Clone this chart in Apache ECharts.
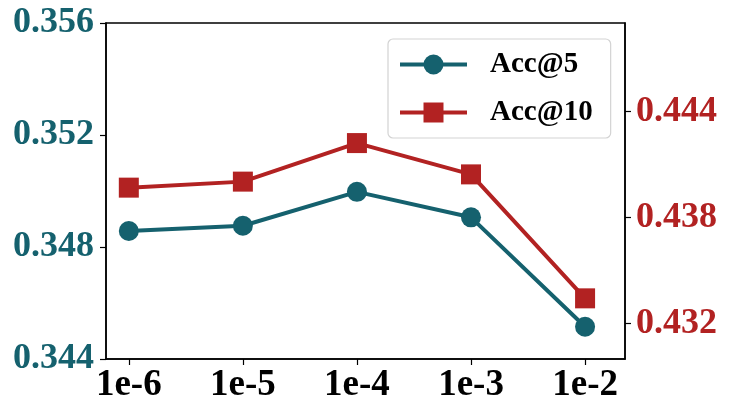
<!DOCTYPE html>
<html>
<head>
<meta charset="utf-8">
<script src="https://cdn.jsdelivr.net/npm/echarts@6/dist/echarts.min.js"></script>
<style>html,body{margin:0;padding:0;background:#fff}#c{width:731px;height:418px}</style>
</head>
<body>
<div id="c"></div>
<script>
var categories = ['1e-6', '1e-5', '1e-4', '1e-3', '1e-2'];
var acc5 = [0.34857, 0.34876, 0.34997, 0.34906, 0.34515];
var acc10 = [0.43969, 0.44003, 0.44221, 0.44044, 0.43343];
var leftTicks = [0.344, 0.348, 0.352, 0.356];
var rightTicks = [0.432, 0.438, 0.444];

var TEAL = '#15616e';
var RED = '#b22222';
var FONT = '"Liberation Serif", "Times New Roman", serif';

function pairs(vals) { return vals.map(function (v, i) { return [i, v]; }); }
var idx = categories.map(function (c, i) { return i; });

var chart = echarts.init(document.getElementById('c'));
chart.setOption({
  animation: false,
  grid: { left: 106, right: 106, top: 23, bottom: 59, show: true, borderColor: '#000', borderWidth: 1.5, backgroundColor: 'transparent' },
  legend: {
    orient: 'vertical', left: 388, top: 39,
    padding: [11, 18, 11, 10],
    itemWidth: 67, itemHeight: 25, itemGap: 19,
    backgroundColor: '#fff', borderColor: '#d3d3d3', borderWidth: 1.2, borderRadius: 5,
    lineStyle: { width: 4 },
    textStyle: { fontFamily: FONT, fontWeight: 'bold', fontSize: 29, color: '#000', padding: [0, 0, 0, 18] },
    data: ['Acc@5', 'Acc@10']
  },
  xAxis: {
    type: 'value', min: -0.2, max: 4.35,
    splitLine: { show: false },
    axisLine: { show: true, onZero: false, lineStyle: { color: '#000', width: 1.5 } },
    axisTick: { show: true, length: 6, lineStyle: { color: '#000', width: 1.2 }, customValues: idx },
    axisLabel: {
      customValues: idx, margin: 8,
      formatter: function (v) { return categories[Math.round(v)]; },
      fontFamily: FONT, fontWeight: 'bold', fontSize: 37, color: '#000'
    }
  },
  yAxis: [{
    type: 'value', min: 0.344, max: 0.356, interval: 0.004, position: 'left',
    splitLine: { show: false },
    axisLine: { show: true, onZero: false, lineStyle: { color: '#000', width: 1.5 } },
    axisTick: { show: true, length: 6, lineStyle: { color: '#000', width: 1.2 }, customValues: leftTicks },
    axisLabel: {
      customValues: leftTicks, margin: 12,
      formatter: function (v) { return v.toFixed(3); },
      fontFamily: FONT, fontWeight: 'bold', fontSize: 36, color: TEAL
    }
  }, {
    type: 'value', min: 0.430, max: 0.449, position: 'right',
    splitLine: { show: false },
    axisLine: { show: true, onZero: false, lineStyle: { color: '#000', width: 1.5 } },
    axisTick: { show: true, length: 6, lineStyle: { color: '#000', width: 1.2 }, customValues: rightTicks },
    axisLabel: {
      customValues: rightTicks, margin: 11,
      formatter: function (v) { return v.toFixed(3); },
      fontFamily: FONT, fontWeight: 'bold', fontSize: 36, color: RED
    }
  }],
  series: [{
    name: 'Acc@5', type: 'line', yAxisIndex: 0, data: pairs(acc5),
    symbol: 'circle', symbolSize: 20,
    lineStyle: { color: TEAL, width: 4 }, itemStyle: { color: TEAL }
  }, {
    name: 'Acc@10', type: 'line', yAxisIndex: 1, data: pairs(acc10),
    symbol: 'rect', symbolSize: 20,
    lineStyle: { color: RED, width: 4 }, itemStyle: { color: RED }
  }]
});
</script>
</body>
</html>
